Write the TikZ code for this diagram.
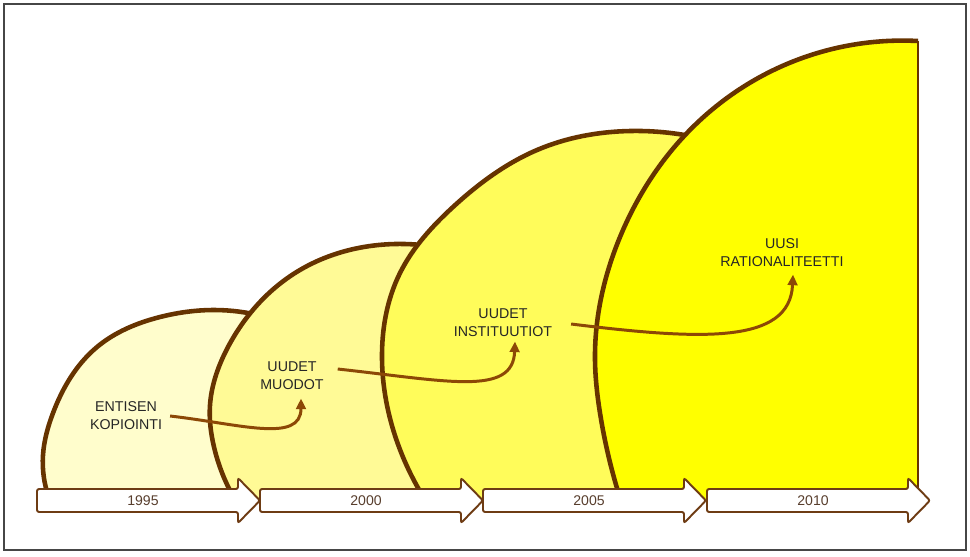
\documentclass[tikz,border=0pt]{standalone}
\usepackage{fontspec}
\setmainfont{Liberation Sans}
\usepackage{tikz}
\usetikzlibrary{arrows.meta,calc,hobby}

\definecolor{domeline}{RGB}{102,51,0}
\definecolor{flowline}{RGB}{140,72,6}
\definecolor{domeone}{RGB}{255,253,204}
\definecolor{dometwo}{RGB}{255,250,150}
\definecolor{domethree}{RGB}{255,252,90}
\definecolor{domefour}{RGB}{255,255,0}
\definecolor{yearline}{RGB}{110,60,20}
\definecolor{yeartext}{RGB}{88,62,45}
\definecolor{frameline}{RGB}{70,70,70}

\tikzset{
  domeedge/.style={draw=domeline, line width=2.6pt},
  flow/.style={draw=flowline, line width=1.7pt, -{Triangle[length=6pt,width=5.5pt]}},
  stage/.style={align=center, inner sep=1pt, font=\fontsize{8.1}{10.2}\selectfont, text=black!85},
  yearbox/.style={draw=yearline, fill=white, line width=1.1pt, rounded corners=1.2pt},
  yearlabel/.style={font=\fontsize{8}{9}\selectfont, text=yeartext, inner sep=1pt},
}

% fill colour, edge points, closing part of the fill
\newcommand{\dome}[3]{%
  \fill[#1, use Hobby shortcut] #2 -- #3;
  \draw[domeedge, use Hobby shortcut] #2;}

% left end, year
\newcommand{\yeararrow}[2]{%
  \draw[yearbox] (#1,489) -- ++(201,0) -- ++(0,-11) -- ++(22,22.5) -- ++(-22,22.5)
    -- ++(0,-11) -- ++(-201,0) -- cycle;
  \node[yearlabel] (y#2) at (#1+106,500.5) {#2};}

\begin{document}
\begin{tikzpicture}[x=0.02cm, y=-0.02cm]
  \useasboundingbox (0,0) rectangle (970,556);
  \draw[frameline, line width=1.1pt] (4,4) rectangle (966,550);

  \dome{domeone}{(49,498) .. (43,455) .. (53,413) .. (97,347) .. (160,317)
    .. (215,310) .. (262,316)}{(262,500) -- (49,500) -- cycle}
  \dome{dometwo}{(234,498) .. (214,447) .. (210,405) .. (228,347)
    .. (295,273) .. (395,244) .. (430,246)}{(430,500) -- (234,500) -- cycle}
  \dome{domethree}{(424,498) .. (399,447) .. (382,353) .. (400,273)
    .. (453,207) .. (537,150) .. (630,131) .. (700,138)}{(700,500) -- (424,500) -- cycle}
  \dome{domefour}{(620,498) .. (600,413) .. (595,360) .. (620,237)
    .. (687,133) .. (780,67) .. (918,41)}{(918,500) -- (620,500) -- cycle}
  \draw[domeline, line width=1.1pt] (918,41) -- (918,489);

  \yeararrow{37}{1995}
  \yeararrow{260}{2000}
  \yeararrow{483}{2005}
  \yeararrow{707}{2010}

  \node[stage] (entisen) at (126,416) {ENTISEN\\KOPIOINTI};
  \node[stage] (muodot) at (292,375.5) {UUDET\\MUODOT};
  \node[stage] (instit) at (503,322.5) {UUDET\\INSTITUUTIOT};
  \node[stage] (uusi) at (782,252.5) {UUSI\\RATIONALITEETTI};

  \draw[flow] ($(entisen.east)+(6,0)$) .. controls +(70,8) and +(0,45) .. ($(muodot.south)+(9,7)$);
  \draw[flow] ($(muodot.east)+(12,-6.5)$) .. controls +(110,12) and +(-2,55) .. ($(instit.south)+(12,3)$);
  \draw[flow] ($(instit.east)+(17,1.5)$) .. controls +(130,16) and +(-3,70) .. ($(uusi.south)+(11,6)$);
\end{tikzpicture}
\end{document}
